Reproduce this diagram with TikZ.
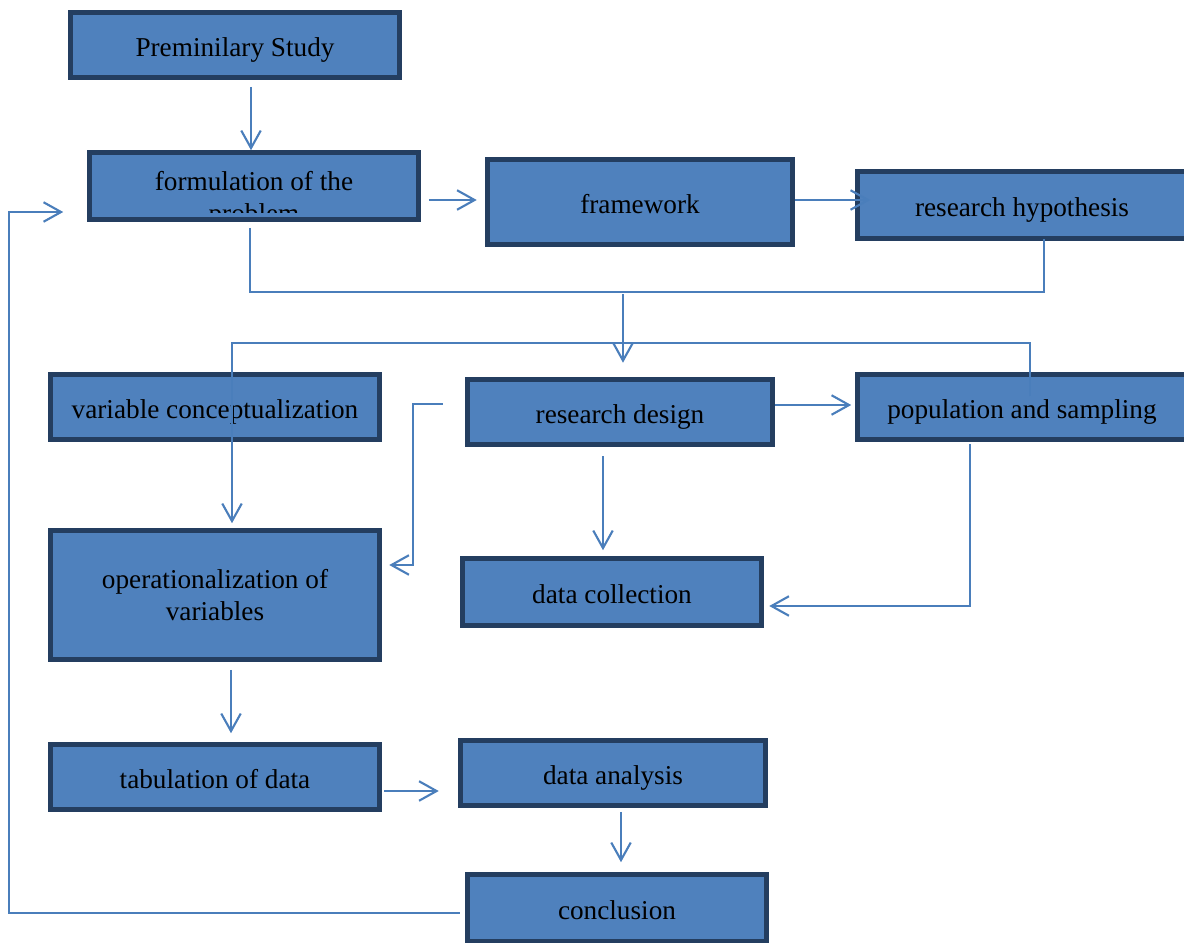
\documentclass[tikz,border=0pt]{standalone}
\usepackage{fontspec}
\setmainfont{Liberation Serif}
\usetikzlibrary{arrows.meta}
\usetikzlibrary{calc}
\usetikzlibrary{positioning}
\definecolor{boxfill}{RGB}{79,129,189}
\definecolor{boxline}{RGB}{36,62,96}
\definecolor{edgeblue}{RGB}{74,126,187}

\begin{document}
\begin{tikzpicture}[x=0.02cm,y=-0.02cm]
        \tikzset{flow_box/.style = {draw=boxline,fill=boxfill,line width=2.9pt,inner sep=2pt,align=center,font=\fontsize{15.5}{18.4}\selectfont}}
        \tikzset{one_line/.style = {flow_box,text height=12.9pt,text depth=0pt}}
        \tikzset{flow_edge/.style = {->,> = {Straight Barb[length=3.5mm,width=3.9mm]},color=edgeblue,line width=1.2pt}}
        \tikzset{flow_line/.style = {-,color=edgeblue,line width=1.2pt}}
        \useasboundingbox (0,0) rectangle (1184,943);

        \node[one_line,minimum width=6.57cm,minimum height=1.29cm] (prem) at (235,45) {Preminilary Study};
        \node[flow_box,minimum width=6.57cm,minimum height=1.33cm] (form) at (254,186) {};
        \begin{scope}
            \clip (form.north west) rectangle ($(form.south east)+(0,-9)$);
            \node[align=center,font=\fontsize{15.5}{18.4}\selectfont] (form_txt) at (254,200) {formulation of the\\problem};
        \end{scope}
        \node[one_line,minimum width=6.11cm,minimum height=1.69cm] (frame) at (640,202) {framework};
        \node[one_line,minimum width=6.57cm,minimum height=1.35cm] (hyp) at (1022,205) {research hypothesis};

        \node[one_line,minimum width=6.59cm,minimum height=1.29cm] (varc) at (215,407) {variable conceptualization};
        \node[one_line,minimum width=6.11cm,minimum height=1.31cm] (rdes) at (620,412) {research design};
        \node[one_line,minimum width=6.57cm,minimum height=1.29cm] (pop) at (1022,407) {population and sampling};

        \node[flow_box,minimum width=6.59cm,minimum height=2.57cm] (oper) at (215,595) {operationalization of\\variables};
        \node[one_line,minimum width=5.99cm,minimum height=1.33cm] (dcol) at (612,592) {data collection};

        \node[one_line,minimum width=6.59cm,minimum height=1.29cm] (tab) at (215,777) {tabulation of data};
        \node[one_line,minimum width=6.11cm,minimum height=1.29cm] (dana) at (613,773) {data analysis};
        \node[one_line,minimum width=5.99cm,minimum height=1.33cm] (conc) at (617,908) {conclusion};

        \coordinate (join) at (623,294);

        \draw[flow_edge] ($(prem.south)+(16,7)$) -- ($(form.north)+(-3,0)$);
        \draw[flow_edge] ($(form.east)+(8,14)$) -- ($(frame.west)+(-8,-2)$);
        \draw[flow_edge] ($(frame.east)+(0,-2)$) -- ($(hyp.west)+(15,-5)$);
        \draw[flow_line] ($(form.south)+(-4,6)$) |- ($(hyp.south)+(22,51)$) -- ($(hyp.south)+(22,-2)$);
        \draw[flow_edge] (join) -- ($(rdes.north)+(3,-14)$);
        \draw[flow_edge] ($(pop.north)+(8,24)$) |- ($(oper.north)+(17,-185)$) -- ($(oper.north)+(17,-5)$);
        \draw[flow_edge] ($(rdes.west)+(-22,-8)$) -- ++(-30,0) |- ($(oper.east)+(7,-30)$);
        \draw[flow_edge] ($(rdes.east)+(0,-7)$) -- ($(pop.west)+(-4,-2)$);
        \draw[flow_edge] ($(rdes.south)+(-17,9)$) -- ($(dcol.north)+(-9,-6)$);
        \draw[flow_edge] ($(pop.south)+(-52,2)$) |- ($(dcol.east)+(5,14)$);
        \draw[flow_edge] ($(oper.south)+(16,8)$) -- ($(tab.north)+(16,-9)$);
        \draw[flow_edge] ($(tab.east)+(2,14)$) -- ($(dana.west)+(-19,18)$);
        \draw[flow_edge] ($(dana.south)+(8,4)$) -- ($(conc.north)+(4,-10)$);
        \draw[flow_edge] ($(conc.west)+(-5,5)$) -| ($(form.west)+(-78,26)$) -- ($(form.west)+(-24,26)$);
    \end{tikzpicture}
\end{document}
